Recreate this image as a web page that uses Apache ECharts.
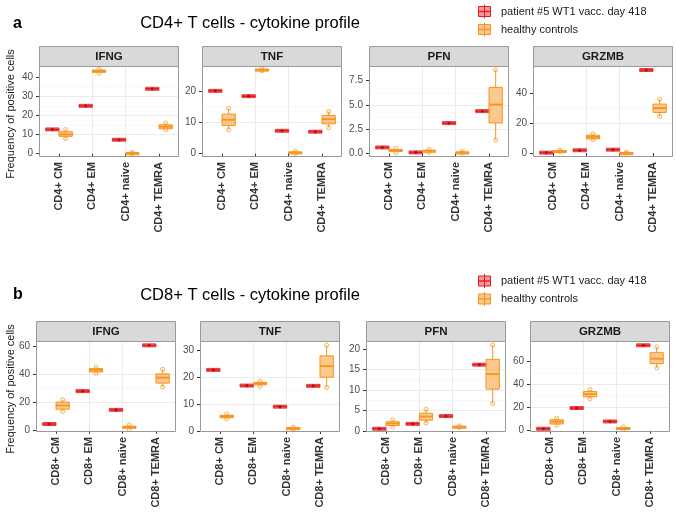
<!DOCTYPE html>
<html><head><meta charset="utf-8">
<script src="https://cdn.jsdelivr.net/npm/echarts@6/dist/echarts.min.js"></script>
<style>html,body{margin:0;padding:0;background:#fff}#c{width:676px;height:513px}</style>
</head><body><div id="c"></div>
<script>
// ---------------- DATA ----------------
const markers = ['IFNG', 'TNF', 'PFN', 'GRZMB'];
const cd4Cats = ['CD4+ CM', 'CD4+ EM', 'CD4+ naive', 'CD4+ TEMRA'];
const cd8Cats = ['CD8+ CM', 'CD8+ EM', 'CD8+ naive', 'CD8+ TEMRA'];
const seriesNames = ['patient #5 WT1 vacc. day 418', 'healthy controls'];

// patient #5 values per subset (CM, EM, naive, TEMRA)
const cd4PatientIFNG = [12.7, 25.0, 7.3, 33.9];
const cd4PatientTNF = [20.0, 18.3, 7.3, 7.0];
const cd4PatientPFN = [0.64, 0.13, 3.14, 4.37];
const cd4PatientGRZMB = [0.2, 1.8, 2.2, 55.5];
const cd8PatientIFNG = [4.8, 28.3, 14.9, 61.0];
const cd8PatientTNF = [22.6, 16.8, 9.0, 16.7];
const cd8PatientPFN = [0.5, 1.7, 3.6, 16.2];
const cd8PatientGRZMB = [1.7, 19.6, 8.0, 73.9];

// healthy controls: [low, q1, median, q3, high]
const cd4HealthyIFNG = [[7.9, 9.1, 10.1, 11.5, 12.6], [42.0, 42.5, 43.1, 43.7, 44.1], [0.1, 0.2, 0.35, 0.5, 0.7], [12.5, 13.0, 14.1, 15.1, 16.1]];
const cd4HealthyTNF = [[7.6, 9.0, 10.8, 12.6, 14.4], [26.4, 26.6, 26.7, 26.9, 27.0], [0.1, 0.25, 0.4, 0.55, 0.8], [8.3, 9.5, 11.0, 12.2, 13.4]];
const cd4HealthyPFN = [[0.1, 0.22, 0.34, 0.42, 0.55], [0.15, 0.22, 0.3, 0.35, 0.45], [0.05, 0.1, 0.13, 0.17, 0.22], [1.4, 3.15, 5.05, 6.8, 8.6]];
const cd4HealthyGRZMB = [[0.8, 1.0, 1.3, 1.6, 1.9], [8.8, 9.4, 10.7, 11.9, 12.8], [0.0, 0.05, 0.1, 0.2, 0.3], [24.4, 27.1, 30.0, 32.7, 36.0]];
const cd8HealthyIFNG = [[13.8, 15.4, 18.0, 20.4, 22.1], [41.0, 42.0, 43.4, 44.4, 45.5], [0.9, 2.0, 2.6, 3.2, 4.3], [31.3, 34.0, 37.9, 40.6, 43.9]];
const cd8HealthyTNF = [[4.5, 4.9, 5.4, 5.8, 6.3], [16.5, 17.1, 17.6, 18.0, 18.4], [0.7, 0.9, 1.1, 1.2, 1.4], [16.1, 19.9, 24.0, 27.8, 31.7]];
const cd8HealthyPFN = [[0.9, 1.3, 1.8, 2.2, 2.7], [1.9, 2.6, 3.5, 4.3, 5.3], [0.8, 0.9, 1.0, 1.1, 1.2], [6.7, 10.2, 13.9, 17.5, 21.0]];
const cd8HealthyGRZMB = [[4.6, 5.8, 7.8, 9.5, 10.9], [27.6, 29.3, 31.6, 33.9, 35.6], [1.2, 1.8, 2.3, 2.8, 3.3], [54.3, 58.0, 62.3, 67.5, 72.4]];

// y tick labels
const cd4TicksIFNG = [0, 10, 20, 30, 40];
const cd4TicksTNF = [0, 10, 20];
const cd4TicksPFN = [0, 2.5, 5, 7.5];
const cd4TicksGRZMB = [0, 20, 40];
const cd8TicksIFNG = [0, 20, 40, 60];
const cd8TicksTNF = [0, 10, 20, 30];
const cd8TicksPFN = [0, 5, 10, 15, 20];
const cd8TicksGRZMB = [0, 20, 40, 60];

// ---------------- LAYOUT ----------------
const RED = '#E41A1C', RED_FILL = 'rgba(228,26,28,0.45)';
const OR = '#F7941D', OR_FILL = 'rgba(247,148,29,0.5)', OR_PT = 'rgba(247,148,29,0.75)';
const FONT = "'Liberation Sans', Arial, Helvetica, sans-serif";
const BORDER = '#999999';

const panels = [
  {cats: cd4Cats, patient: cd4PatientIFNG, healthy: cd4HealthyIFNG, ticks: cd4TicksIFNG, range: [-1.7, 45.8], dec: 0, left: 39, top: 66},
  {cats: cd4Cats, patient: cd4PatientTNF, healthy: cd4HealthyTNF, ticks: cd4TicksTNF, range: [-1.05, 27.9], dec: 0, left: 202, top: 66},
  {cats: cd4Cats, patient: cd4PatientPFN, healthy: cd4HealthyPFN, ticks: cd4TicksPFN, range: [-0.34, 9.0], dec: 1, left: 369, top: 66},
  {cats: cd4Cats, patient: cd4PatientGRZMB, healthy: cd4HealthyGRZMB, ticks: cd4TicksGRZMB, range: [-2.7, 58.2], dec: 0, left: 533, top: 66},
  {cats: cd8Cats, patient: cd8PatientIFNG, healthy: cd8HealthyIFNG, ticks: cd8TicksIFNG, range: [-0.9, 64.1], dec: 0, left: 36, top: 341},
  {cats: cd8Cats, patient: cd8PatientTNF, healthy: cd8HealthyTNF, ticks: cd8TicksTNF, range: [-0.37, 33.3], dec: 0, left: 200, top: 341},
  {cats: cd8Cats, patient: cd8PatientPFN, healthy: cd8HealthyPFN, ticks: cd8TicksPFN, range: [-0.3, 22.0], dec: 0, left: 366, top: 341},
  {cats: cd8Cats, patient: cd8PatientGRZMB, healthy: cd8HealthyGRZMB, ticks: cd8TicksGRZMB, range: [-1.1, 77.6], dec: 0, left: 530, top: 341}
];
const PW = 140, PH = 91, STRIP_H = 20;

function minorTicks(ticks, range) {
  const step = ticks[1] - ticks[0];
  const out = [];
  for (let v = ticks[0] - step / 2; v <= range[1]; v += step) if (v >= range[0]) out.push(+v.toFixed(4));
  return out;
}

function renderPatient(params, api) {
  const c = api.coord([api.value(0), api.value(1)]);
  const w = api.size([0.4, 0])[0];
  return {type: 'group', children: [
    {type: 'rect', shape: {x: c[0] - w / 2, y: c[1] - 1.5, width: w, height: 3}, style: {fill: RED_FILL, stroke: RED, lineWidth: 0.8}},
    {type: 'line', shape: {x1: c[0] - w / 2, y1: c[1], x2: c[0] + w / 2, y2: c[1]}, style: {stroke: RED, lineWidth: 1.6}},
    {type: 'circle', shape: {cx: c[0], cy: c[1], r: 1.6}, style: {fill: '#B0151A'}}
  ]};
}

function renderHealthy(params, api) {
  const x = api.value(0);
  const lo = api.coord([x, api.value(1)]);
  const q1 = api.coord([x, api.value(2)]);
  const md = api.coord([x, api.value(3)]);
  const q3 = api.coord([x, api.value(4)]);
  const hi = api.coord([x, api.value(5)]);
  const w = api.size([0.4, 0])[0];
  const cx = lo[0];
  return {type: 'group', children: [
    {type: 'line', shape: {x1: cx, y1: hi[1], x2: cx, y2: q3[1]}, style: {stroke: OR, lineWidth: 1}},
    {type: 'line', shape: {x1: cx, y1: q1[1], x2: cx, y2: lo[1]}, style: {stroke: OR, lineWidth: 1}},
    {type: 'rect', shape: {x: cx - w / 2, y: q3[1], width: w, height: Math.max(q1[1] - q3[1], 2)}, style: {fill: OR_FILL, stroke: OR, lineWidth: 1}},
    {type: 'line', shape: {x1: cx - w / 2, y1: md[1], x2: cx + w / 2, y2: md[1]}, style: {stroke: OR, lineWidth: 1.8}},
    {type: 'circle', shape: {cx: cx, cy: hi[1], r: 2}, style: {fill: 'none', stroke: OR_PT, lineWidth: 1}},
    {type: 'circle', shape: {cx: cx, cy: lo[1], r: 2}, style: {fill: 'none', stroke: OR_PT, lineWidth: 1}}
  ]};
}

const grid = [], xAxis = [], yAxis = [], series = [], graphic = [];

panels.forEach((p, i) => {
  grid.push({left: p.left, top: p.top, width: PW, height: PH, show: false, containLabel: false, outerBoundsMode: 'none'});
  const catPos = p.cats.map((c, k) => k + 1);
  xAxis.push({
    type: 'value', gridIndex: i, min: 0.4, max: 4.6, minInterval: 1, maxInterval: 1,
    axisLine: {show: false},
    axisTick: {show: true, length: 3, lineStyle: {color: '#333'}, customValues: catPos},
    axisLabel: {customValues: catPos, rotate: 90, margin: 5, fontSize: 11, fontWeight: 'bold', color: '#333', fontFamily: FONT,
      formatter: v => (Number.isInteger(v) && v >= 1 && v <= 4) ? p.cats[v - 1] : ''},
    splitLine: {show: true, showMinLine: false, showMaxLine: false, lineStyle: {color: '#EBEBEB', width: 1}}
  });
  const step = p.ticks[1] - p.ticks[0];
  yAxis.push({
    type: 'value', gridIndex: i, min: p.range[0], max: p.range[1], minInterval: step, maxInterval: step,
    axisLine: {show: false},
    axisTick: {show: true, length: 3, lineStyle: {color: '#333'}, customValues: p.ticks},
    axisLabel: {customValues: p.ticks, showMinLabel: true, showMaxLabel: true, margin: 6, fontSize: 10, color: '#4D4D4D', fontFamily: FONT,
      formatter: v => p.ticks.some(t => Math.abs(t - v) < 1e-9) ? v.toFixed(p.dec) : ''},
    splitLine: {show: true, showMinLine: false, showMaxLine: false, lineStyle: {color: '#EBEBEB', width: 1}}
  });
  const mt = minorTicks(p.ticks, p.range);
  yAxis.push({
    type: 'value', gridIndex: i, min: p.range[0], max: p.range[1], position: 'left',
    axisLine: {show: false},
    axisTick: {show: false, customValues: mt},
    axisLabel: {show: false, customValues: mt},
    splitLine: {show: true, showMinLine: false, showMaxLine: false, lineStyle: {color: '#F5F5F5', width: 0.7}}
  });
  series.push({
    type: 'custom', name: seriesNames[0], xAxisIndex: i, yAxisIndex: 2 * i, clip: false, z: 3,
    renderItem: renderPatient,
    data: p.patient.map((v, k) => [k + 1 - 0.2, v])
  });
  series.push({
    type: 'custom', name: seriesNames[1], xAxisIndex: i, yAxisIndex: 2 * i, clip: false, z: 4,
    renderItem: renderHealthy,
    data: p.healthy.map((b, k) => [k + 1 + 0.2].concat(b))
  });
  // panel border
  graphic.push({type: 'rect', z: 100, silent: true, shape: {x: p.left + 0.5, y: p.top + 0.5, width: PW - 1, height: PH - 1},
    style: {fill: 'none', stroke: BORDER, lineWidth: 1}});
  // strip
  graphic.push({type: 'rect', z: 100, silent: true, shape: {x: p.left + 0.5, y: p.top - STRIP_H + 0.5, width: PW - 1, height: STRIP_H},
    style: {fill: '#D9D9D9', stroke: BORDER, lineWidth: 1}});
  graphic.push({type: 'text', z: 101, silent: true, x: p.left + PW / 2, y: p.top - STRIP_H / 2 + 0.5,
    style: {text: markers[i % 4], fill: '#1A1A1A', font: 'bold 11.5px ' + FONT, textAlign: 'center', textVerticalAlign: 'middle'}});
});

// titles, panel letters, y labels, legends
[{letter: 'a', title: 'CD4+ T cells - cytokine profile', ty: 23.5, ylabY: 114, legY: 11.5},
 {letter: 'b', title: 'CD8+ T cells - cytokine profile', ty: 295, ylabY: 389, legY: 281}].forEach(b => {
  graphic.push({type: 'text', x: 13, y: b.ty, style: {text: b.letter, font: 'bold 16px ' + FONT, fill: '#000', textVerticalAlign: 'middle'}});
  graphic.push({type: 'text', x: 250, y: b.ty, style: {text: b.title, font: '16.5px ' + FONT, fill: '#000', textAlign: 'center', textVerticalAlign: 'middle'}});
  graphic.push({type: 'text', x: 11, y: b.ylabY, rotation: Math.PI / 2,
    style: {text: 'Frequency of positive cells', font: '11px ' + FONT, fill: '#1A1A1A', textAlign: 'center', textVerticalAlign: 'middle'}});
  [[RED, RED_FILL, seriesNames[0]], [OR, OR_FILL, seriesNames[1]]].forEach((s, j) => {
    const cy = b.legY + j * 18;
    graphic.push({type: 'line', shape: {x1: 484.5, y1: cy - 7, x2: 484.5, y2: cy + 7}, style: {stroke: s[0], lineWidth: 1}});
    graphic.push({type: 'rect', shape: {x: 478.5, y: cy - 5, width: 12, height: 10}, style: {fill: s[1], stroke: s[0], lineWidth: 1}});
    graphic.push({type: 'line', shape: {x1: 478.5, y1: cy, x2: 490.5, y2: cy}, style: {stroke: s[0], lineWidth: 1.3}});
    graphic.push({type: 'text', x: 501, y: cy, style: {text: s[2], font: '11px ' + FONT, fill: '#1A1A1A', textVerticalAlign: 'middle'}});
  });
});

const chart = echarts.init(document.getElementById('c'), null, {renderer: 'canvas'});
chart.setOption({
  animation: false,
  backgroundColor: '#fff',
  textStyle: {fontFamily: FONT},
  grid, xAxis, yAxis, series, graphic
});
</script></body></html>
